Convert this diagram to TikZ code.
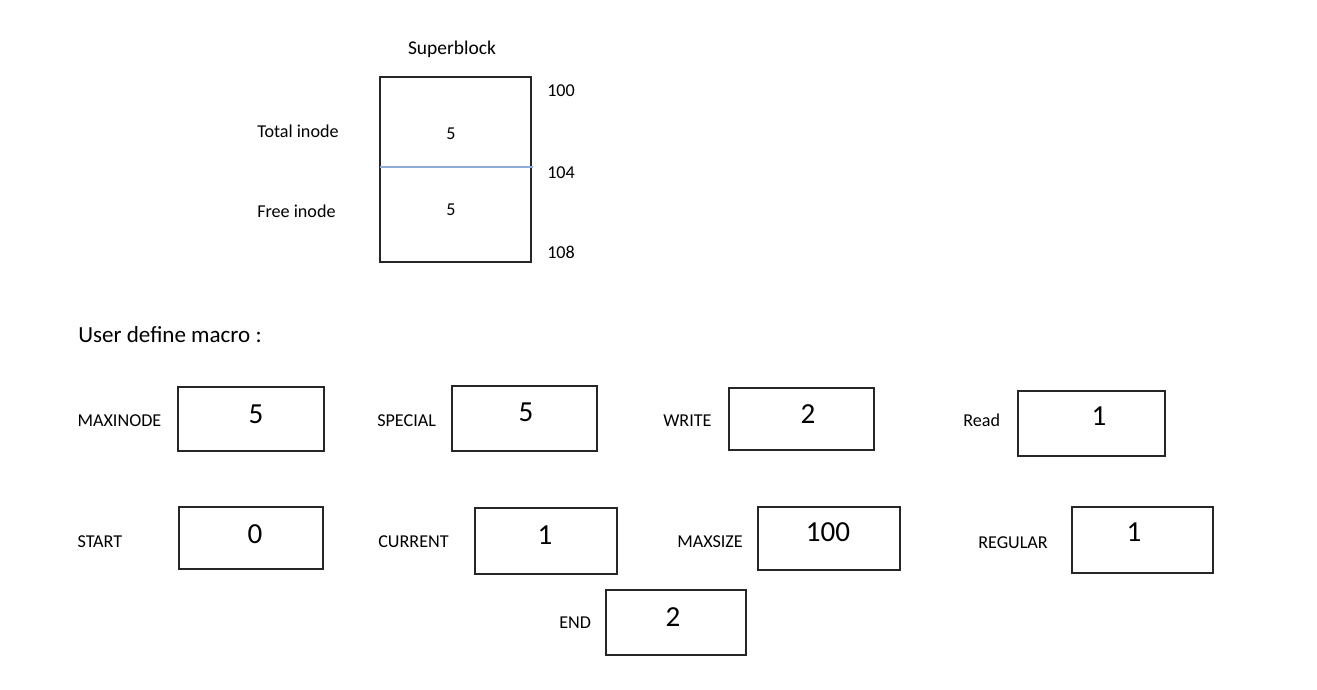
\documentclass[tikz,border=0pt]{standalone}
\usepackage{fontspec}
\setmainfont{Carlito}
\usetikzlibrary{fit}
\definecolor{divblue}{HTML}{8EAADB}
\tikzset{
  txt/.style={inner sep=0pt, text height=0.64em, text depth=0pt, yshift=-1.5pt},
  lbl/.style={txt, anchor=west, font=\fontsize{13.6}{15}\selectfont},
  sbtxt/.style={txt, font=\fontsize{13.6}{16}\selectfont},
  num/.style={txt, font=\fontsize{21.8}{24}\selectfont, yshift=-2pt},
  vbox/.style={draw=black!85, line width=0.9pt, inner sep=0pt},
  divider/.style={draw=divblue, line width=0.9pt}
}
\begin{document}
\begin{tikzpicture}[x=0.75pt,y=-0.75pt]
\useasboundingbox (0,0) rectangle (1317,689);
% Superblock
\node[txt, font=\fontsize{14.6}{17}\selectfont] (sbtitle) at (452,48.5) {Superblock};
\node[vbox, fit={(380,77) (531,262)}] (sb) {};
\coordinate (divl) at (380,167);
\coordinate (divr) at (532.7,167);
\draw[divider] (divl) -- (divr);
\node[sbtxt, anchor=west] (tot) at (257,131) {Total inode};
\node[sbtxt] (totv) at (451,133) {5};
\node[sbtxt, anchor=west] (fre) at (257,211.5) {Free inode};
\node[sbtxt] (frev) at (451,209) {5};
\node[sbtxt, anchor=west] (a100) at (547,90) {100};
\node[sbtxt, anchor=west] (a104) at (547,172) {104};
\node[sbtxt, anchor=west] (a108) at (547,252) {108};
% Macros
\node[txt, anchor=west, font=\fontsize{17.3}{20}\selectfont] (udm) at (78,336) {User define macro :};
% row 1
\node[lbl] (lmaxinode) at (77.3,420) {MAXINODE};
\node[vbox, fit={(178,387) (324,451)}] (bmaxinode) {};
\node[num] (nmaxinode) at (256,415) {5};
\node[lbl] (lspecial) at (377,420) {SPECIAL};
\node[vbox, fit={(452,386) (597,451)}] (bspecial) {};
\node[num] (nspecial) at (526,413) {5};
\node[lbl] (lwrite) at (663,420) {WRITE};
\node[vbox, fit={(729,388) (874,450)}] (bwrite) {};
\node[num] (nwrite) at (808,415) {2};
\node[lbl] (lread) at (963,420) {Read};
\node[vbox, fit={(1018,391) (1165,456)}] (bread) {};
\node[num] (nread) at (1099,417) {1};
% row 2
\node[lbl] (lstart) at (77.3,541) {START};
\node[vbox, fit={(179,507) (323,569)}] (bstart) {};
\node[num] (nstart) at (255,535) {0};
\node[lbl] (lcurrent) at (378,541.5) {CURRENT};
\node[vbox, fit={(475,508) (617,574)}] (bcurrent) {};
\node[num] (ncurrent) at (545,536) {1};
\node[lbl] (lmaxsize) at (677,541.5) {MAXSIZE};
\node[vbox, fit={(758,507) (900,570)}] (bmaxsize) {};
\node[num] (nmaxsize) at (828,533) {100};
\node[lbl] (lregular) at (978,542) {REGULAR};
\node[vbox, fit={(1072,507) (1213,573)}] (bregular) {};
\node[num] (nregular) at (1134,533) {1};
% row 3
\node[lbl] (lend) at (559,622) {END};
\node[vbox, fit={(606,590) (746,655)}] (bend) {};
\node[num] (nend) at (673,618) {2};
\end{tikzpicture}
\end{document}
